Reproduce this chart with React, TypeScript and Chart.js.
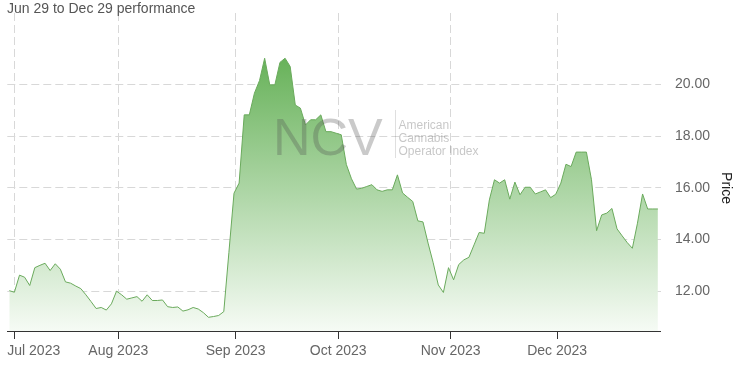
import React, { useEffect, useRef } from "react";
import { Chart, registerables } from "chart.js";

Chart.register(...registerables);

// Daily closing prices, Jun 29 – Dec 29 2023 (trading days)
const prices: number[] = [
  12.02, 11.96, 12.62, 12.54, 12.22, 12.91, 13.0, 13.08, 12.8, 13.06,
  12.85, 12.36, 12.31, 12.2, 12.1, 11.86, 11.6, 11.33, 11.37, 11.27,
  11.51, 12.0, 11.86, 11.69, 11.74, 11.79, 11.61, 11.86, 11.64, 11.64,
  11.66, 11.4, 11.37, 11.39, 11.23, 11.28, 11.37, 11.31, 11.17, 10.99,
  11.02, 11.06, 11.21, 13.5, 15.79, 16.18, 18.82, 18.82, 19.66, 20.15,
  21.01, 19.98, 19.98, 20.85, 21.01, 20.69, 19.2, 19.08, 18.43, 18.63,
  18.63, 18.82, 18.17, 18.17, 18.11, 18.05, 16.9, 16.35, 15.95, 15.98,
  16.05, 16.12, 15.92, 15.86, 15.92, 15.92, 16.5, 15.8, 15.63, 15.47,
  14.72, 14.68, 13.86, 13.1, 12.24, 11.95, 12.91, 12.44, 13.03, 13.21,
  13.31, 13.79, 14.27, 14.24, 15.53, 16.31, 16.18, 16.31, 15.56, 16.22,
  15.73, 16.02, 16.02, 15.76, 15.84, 15.92, 15.62, 15.75, 16.18, 16.91,
  16.82, 17.38, 17.38, 17.38, 16.31, 14.34, 14.95, 15.02, 15.2, 14.41,
  14.14, 13.88, 13.66, 14.63, 15.76, 15.18, 15.18, 15.18,
];

const monthLabels: string[] = ["Jul 2023", "Aug 2023", "Sep 2023", "Oct 2023", "Nov 2023", "Dec 2023"];
// month starts expressed on the trading-day index axis
const monthTickPos: number[] = [0.98, 21.34, 44.32, 64.41, 86.42, 107.28];
const priceTicks: number[] = [12, 14, 16, 18, 20];

const titleText = "Jun 29 to Dec 29 performance";
const yAxisTitle = "Price";
const watermarkBig = "NCV";
const watermarkLines: string[] = ["American", "Cannabis", "Operator Index"];

const FONT = '"Liberation Sans", Arial, Helvetica, sans-serif';

export default function App() {
  const ref = useRef<HTMLCanvasElement | null>(null);

  useEffect(() => {
    const canvas = ref.current;
    if (!canvas) return;

    const overlay = {
      id: "overlay",
      beforeDraw(chart: any) {
        // keep the first month label inside the chart, aligned to the axis start
        const xs = chart.scales.x;
        const items = xs.getLabelItems();
        if (items && items.length) {
          const first = items[0];
          const w = chart.ctx.measureText ? null : null;
          first.options.textAlign = "left";
          first.options.translation = [chart.chartArea.left, first.options.translation[1]];
        }
      },
      afterDatasetsDraw(chart: any) {
        const ctx = chart.ctx;
        ctx.save();
        ctx.fillStyle = "rgba(80,80,80,0.3)";
        ctx.font = `52px ${FONT}`;
        ctx.textAlign = "left";
        ctx.textBaseline = "alphabetic";
        ctx.fillText(watermarkBig, 273, 155);
        ctx.strokeStyle = "rgba(80,80,80,0.18)";
        ctx.lineWidth = 1;
        ctx.beginPath();
        ctx.moveTo(395.5, 110);
        ctx.lineTo(395.5, 158);
        ctx.stroke();
        ctx.font = `12px ${FONT}`;
        ctx.fillStyle = "rgba(80,80,80,0.32)";
        watermarkLines.forEach((t, i) => ctx.fillText(t, 398.5, 128.5 + i * 13));
        ctx.restore();
      },
      afterDraw(chart: any) {
        const ctx = chart.ctx;
        ctx.save();
        ctx.font = `14px ${FONT}`;
        ctx.fillStyle = "#555";
        ctx.textAlign = "left";
        ctx.textBaseline = "alphabetic";
        ctx.fillText(titleText, 7, 12.7);
        ctx.translate(726, 188);
        ctx.rotate(Math.PI / 2);
        ctx.fillStyle = "#222";
        ctx.textAlign = "center";
        ctx.textBaseline = "middle";
        ctx.fillText(yAxisTitle, 0, 0);
        ctx.restore();
      },
    };

    const chart = new Chart(canvas, {
      type: "line",
      data: {
        datasets: [
          {
            data: prices.map((v, i) => ({ x: i, y: v })),
            borderColor: "#6aaa5c",
            borderWidth: 1,
            pointRadius: 0,
            tension: 0,
            fill: "start",
            backgroundColor: (c: any) => {
              const area = c.chart.chartArea;
              if (!area) return "rgba(100,170,85,0.5)";
              const g = c.chart.ctx.createLinearGradient(0, area.top, 0, area.bottom);
              g.addColorStop(0, "rgb(80,166,64)");
              g.addColorStop(1, "rgb(246,251,245)");
              return g;
            },
          },
        ],
      },
      options: {
        responsive: false,
        animation: false,
        layout: { padding: { left: 7.3, top: 13, right: 0, bottom: 0 } },
        plugins: { legend: { display: false }, tooltip: { enabled: false }, title: { display: false } },
        scales: {
          x: {
            type: "linear",
            position: "bottom",
            min: -0.39,
            max: 127.55,
            afterBuildTicks: (s: any) => {
              s.ticks = monthTickPos.map((v) => ({ value: v }));
            },
            afterFit: (s: any) => {
              s.height = 35;
              s.paddingLeft = 0;
              s.paddingRight = 0;
            },
            ticks: {
              autoSkip: false,
              maxRotation: 0,
              padding: 4,
              color: "#666",
              font: { family: FONT, size: 14 },
              callback: (_v: any, idx: number) => monthLabels[idx],
            },
            grid: {
              color: "#d8d8d8",
              lineWidth: 1,
              drawTicks: true,
              tickLength: 8,
              tickColor: "#333",
            },
            border: { display: true, color: "#333", width: 1, dash: [8, 4] },
          },
          y: {
            type: "linear",
            position: "right",
            min: 10.46,
            max: 22.76,
            afterBuildTicks: (s: any) => {
              s.ticks = priceTicks.map((v) => ({ value: v }));
            },
            afterFit: (s: any) => {
              s.width = 78.3;
              s.paddingTop = 0;
              s.paddingBottom = 0;
            },
            ticks: {
              padding: 14.3,
              color: "#666",
              font: { family: FONT, size: 14 },
              callback: (v: any) => Number(v).toFixed(2),
            },
            grid: { color: "#d8d8d8", lineWidth: 1, drawTicks: false },
            border: { display: false, dash: [8, 4] },
          },
        },
      },
      plugins: [overlay],
    } as any);

    return () => chart.destroy();
  }, []);

  return (
    <div style={{ position: "fixed", left: 0, top: 0, width: 739, height: 366, background: "#fff" }}>
      <canvas ref={ref} width={739} height={366} style={{ display: "block" }} />
    </div>
  );
}
